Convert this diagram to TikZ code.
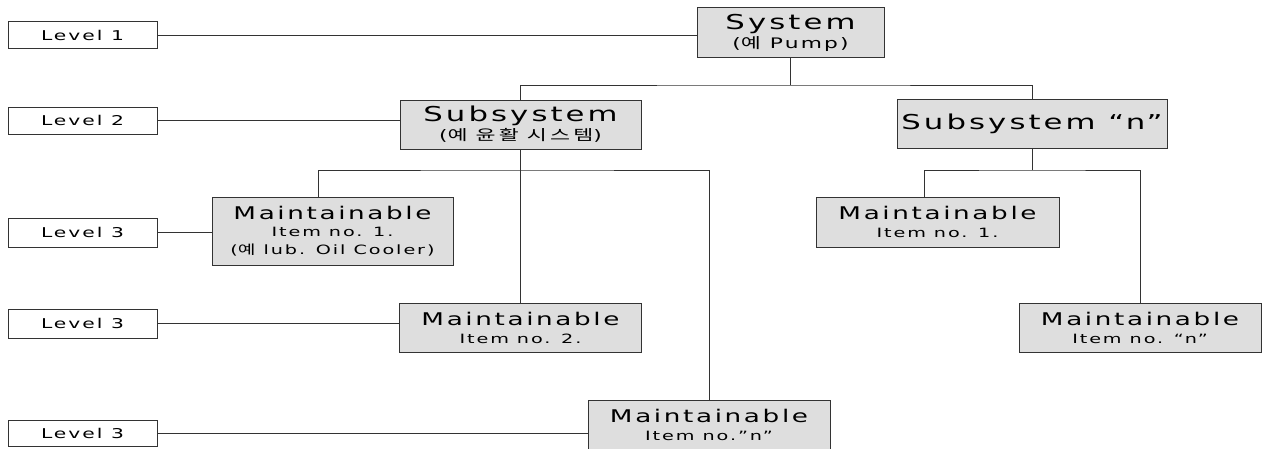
\documentclass[tikz,border=0pt]{standalone}
\usepackage{fontspec}
\setmainfont{DejaVu Sans}[FakeStretch=1.5,LetterSpace=15]
\newfontfamily\kr{Noto Sans CJK KR}[FakeStretch=1.5,LetterSpace=22]
\tikzset{
  levelbox/.style={%
    draw=black!80, line width=1pt, inner sep=0pt,
    minimum width=149pt, minimum height=27pt,
    font=\fontsize{13.5}{15}\selectfont,
  },
  unitbox/.style={%
    draw=black!80, fill=black!13, line width=1pt, inner sep=0pt,
    minimum height=49pt, align=center,
  },
  link/.style={draw=black!80, line width=1pt},
  bigtext/.style={font=\fontsize{20.5}{21}\selectfont},
  midtext/.style={font=\fontsize{17.5}{17}\selectfont},
}
\newcommand{\smalltext}[1]{{\fontsize{14.5}{17}\selectfont #1}}
\newcommand{\itemtext}[1]{{\fontsize{12.8}{15}\selectfont #1}}

\begin{document}
\begin{tikzpicture}[x=1pt,y=-1pt]
\useasboundingbox (0,0) rectangle (1262,448);
\node[levelbox] (lv1) at (82.5,35) {Level 1};
\node[levelbox] (lv2) at (82.5,120.5) {Level 2};
\node[levelbox,minimum height=29pt] (lv3a) at (82.5,232.5) {Level 3};
\node[levelbox,minimum height=29pt] (lv3b) at (82.5,323.5) {Level 3};
\node[levelbox,minimum height=26pt] (lv3c) at (82.5,433) {Level 3};
\node[unitbox,bigtext,minimum width=187pt,minimum height=50pt] (sys) at (790.5,32.5)
  {System\\[-2pt]\smalltext{({\kr 예} Pump)}};
\node[unitbox,bigtext,minimum width=241pt] (sub) at (520.5,124.5)
  {Subsystem\\[-2pt]\smalltext{({\kr 예 윤활 시스템})}};
\node[unitbox,bigtext,minimum width=270pt] (subn) at (1032,123.5) {Subsystem “n”};
\node[unitbox,midtext,minimum width=241pt,minimum height=68pt] (m1) at (332.5,231)
  {Maintainable\\[0pt]\itemtext{Item no. 1.}\\[1pt]\itemtext{({\kr 예} lub. Oil Cooler)}};
\node[unitbox,midtext,minimum width=242pt] (m2) at (520.5,327.5)
  {Maintainable\\[1pt]\itemtext{Item no. 2.}};
\node[unitbox,midtext,minimum width=242pt,minimum height=50pt] (mn) at (709,425)
  {Maintainable\\[1pt]\itemtext{Item no.”n”}};
\node[unitbox,midtext,minimum width=243pt,minimum height=50pt] (r1) at (937.5,222)
  {Maintainable\\[1pt]\itemtext{Item no. 1.}};
\node[unitbox,midtext,minimum width=242pt] (rn) at (1140,327.5)
  {Maintainable\\[1pt]\itemtext{Item no. “n”}};
\coordinate (bus0) at (790.5,85);
\coordinate (bus1) at (520.5,170);
\coordinate (bus2) at (1032,170);
\draw[link] (sys.south) -- (bus0);
\draw[link] (sub.north) |- (bus0) -| (subn.north);
\draw[link] (sub.south) -- (m2.north);
\draw[link] ([xshift=-14pt]m1.north) |- (bus1) -| (mn.north);
\draw[link] (subn.south) -- (bus2);
\draw[link] ([xshift=-13pt]r1.north) |- (bus2) -| (rn.north);
\draw[link] (lv1.east) -- (lv1.east -| sys.west);
\draw[link] (lv2.east) -- (lv2.east -| sub.west);
\draw[link] (lv3a.east) -- (lv3a.east -| m1.west);
\draw[link] (lv3b.east) -- (lv3b.east -| m2.west);
\draw[link] (lv3c.east) -- (lv3c.east -| mn.west);
\end{tikzpicture}
\end{document}
